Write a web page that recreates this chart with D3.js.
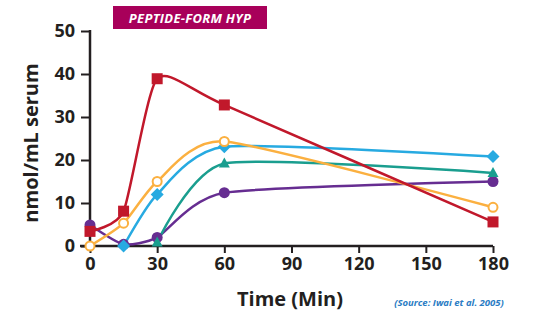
<!DOCTYPE html>
<html><head><meta charset="utf-8">
<script src="https://cdn.jsdelivr.net/npm/d3@7"></script>
<style>body{margin:0;background:#fff}svg{display:block}</style>
</head><body>
<svg id="c" width="557" height="321"></svg>
<script>
const xTicks = [0,30,60,90,120,150,180];
const yTicks = [0,10,20,30,40,50];
const redT = [0,15,30,60,180],    redV = [3.4,8.1,38.9,32.8,5.6];
const orangeT = [0,15,30,60,180], orangeV = [0,5.3,15,24.3,9];
const blueT = [15,30,60,180],     blueV = [0,12,23.1,20.8];
const tealT = [30,60,180],        tealV = [0.8,19.2,17];
const purpleT = [0,15,30,60,180], purpleV = [4.9,0.4,2,12.4,15];

const series = [
  {t:purpleT, v:purpleV, color:"#662d91", shape:"circle"},
  {t:tealT, v:tealV, color:"#1a9e8f", shape:"triangle"},
  {t:blueT, v:blueV, color:"#27aae1", shape:"diamond"},
  {t:orangeT, v:orangeV, color:"#fbb040", shape:"open"},
  {t:redT, v:redV, color:"#c1182b", shape:"square"}
];

const svg = d3.select("#c");
const x = d3.scaleLinear().domain([0,180]).range([90,493]);
const y = d3.scaleLinear().domain([0,50]).range([246,31]);
const ink = "#231f20";
const font = "'Open Sans', Lato, sans-serif";

// title box
svg.append("rect").attr("x",113).attr("y",6).attr("width",154).attr("height",23).attr("fill","#a8005a");
svg.append("text").attr("x",190).attr("y",22.5).attr("text-anchor","middle")
  .attr("fill","#fff").attr("font-family",font).attr("font-weight","bold").attr("font-style","italic")
  .attr("font-size",13).attr("letter-spacing",0.3).text("PEPTIDE-FORM HYP");

// axes
const gx = svg.append("g").attr("transform","translate(0,246)")
  .call(d3.axisBottom(x).tickValues(xTicks).tickSize(7).tickPadding(4));
gx.select(".domain").remove();
gx.append("line").attr("x1",80).attr("x2",493).attr("stroke",ink).attr("stroke-width",2.5);
const gy = svg.append("g").attr("transform","translate(90,0)")
  .call(d3.axisLeft(y).tickValues(yTicks).tickSize(9).tickPadding(6));
gy.select(".domain").remove();
gy.append("line").attr("y1",30).attr("y2",246).attr("stroke",ink).attr("stroke-width",2.5);
[gx,gy].forEach(g=>{
  g.selectAll(".tick line").attr("stroke",ink).attr("stroke-width",2);
  g.selectAll(".tick text").attr("fill",ink).attr("font-family",font).attr("font-weight","bold").attr("font-size",18);
});

// labels
svg.append("text").attr("transform","translate(38,143) rotate(-90)").attr("text-anchor","middle")
  .attr("fill",ink).attr("font-family",font).attr("font-weight","bold").attr("font-size",20).text("nmol/mL serum");
svg.append("text").attr("x",290).attr("y",306).attr("text-anchor","middle")
  .attr("fill",ink).attr("font-family",font).attr("font-weight","bold").attr("font-size",20).text("Time (Min)");
svg.append("text").attr("x",449).attr("y",306).attr("text-anchor","middle")
  .attr("fill","#2a7cc4").attr("font-family",font).attr("font-weight","bold").attr("font-style","italic")
  .attr("font-size",9.5).text("(Source: Iwai et al. 2005)");

const line = d3.line().x(d=>x(d[0])).y(d=>y(d[1])).curve(d3.curveCardinal.tension(0.4));
series.forEach(s=>{
  const pts = s.t.map((t,i)=>[t,s.v[i]]);
  svg.append("path").attr("d",line(pts)).attr("fill","none").attr("stroke",s.color).attr("stroke-width",2.5);
});
series.forEach(s=>{
  const pts = s.t.map((t,i)=>[t,s.v[i]]);
  const g = svg.append("g");
  pts.forEach(p=>{
    const cx=x(p[0]), cy=y(p[1]);
    if(s.shape==="circle") g.append("circle").attr("cx",cx).attr("cy",cy).attr("r",5.5).attr("fill",s.color);
    else if(s.shape==="open") g.append("circle").attr("cx",cx).attr("cy",cy).attr("r",4.5).attr("fill","#fff").attr("stroke",s.color).attr("stroke-width",2);
    else if(s.shape==="square") g.append("rect").attr("x",cx-5.5).attr("y",cy-5.5).attr("width",11).attr("height",11).attr("fill",s.color);
    else if(s.shape==="diamond") g.append("path").attr("d",`M${cx},${cy-6.5}L${cx+6.5},${cy}L${cx},${cy+6.5}L${cx-6.5},${cy}Z`).attr("fill",s.color);
    else if(s.shape==="triangle") g.append("path").attr("d",`M${cx},${cy-6}L${cx+5.5},${cy+4}L${cx-5.5},${cy+4}Z`).attr("fill",s.color);
  });
});
</script>
</body></html>
